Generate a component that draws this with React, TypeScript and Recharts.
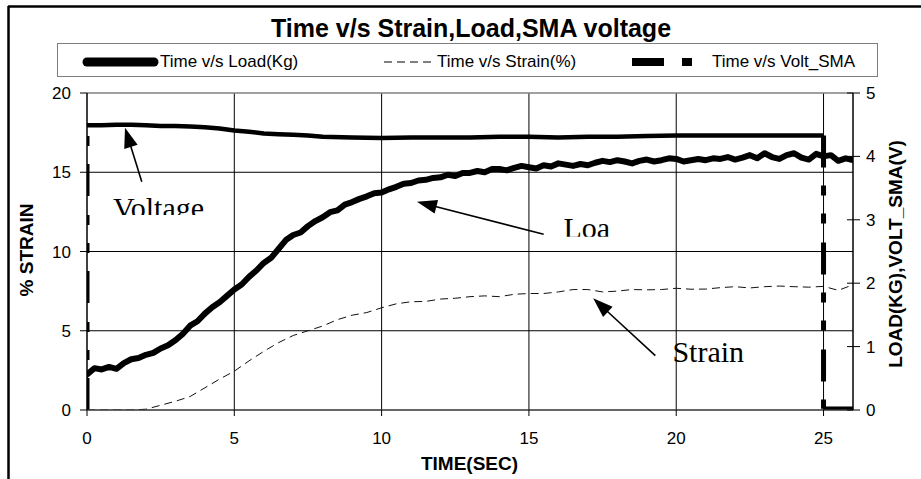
import React from 'react';
import {
  ComposedChart,
  Line,
  XAxis,
  YAxis,
  CartesianGrid,
  ReferenceLine,
  ReferenceDot,
  Customized,
} from 'recharts';

// ---------- texts ----------
const TITLE = 'Time v/s Strain,Load,SMA voltage';
const X_TITLE = 'TIME(SEC)';
const Y_LEFT_TITLE = '% STRAIN';
const Y_RIGHT_TITLE = 'LOAD(KG),VOLT_SMA(V)';
const SERIES_NAMES = ['Time v/s Load(Kg)', 'Time v/s Strain(%)', 'Time v/s Volt_SMA'];

// ---------- ticks ----------
const X_TICKS = [0, 5, 10, 15, 20, 25];
const LEFT_TICKS = [0, 5, 10, 15, 20];
const RIGHT_TICKS = [0, 1, 2, 3, 4, 5];
const GRID_Y = [5, 10, 15];
const GRID_X = [5, 10, 15, 20, 25];

// ---------- data ----------
const LOAD_T = [
  0, 0.25, 0.5, 0.75, 1, 1.25, 1.5, 1.75, 2, 2.25, 2.5, 2.75, 3, 3.25, 3.5, 3.75,
  4, 4.25, 4.5, 4.75, 5, 5.25, 5.5, 5.75, 6, 6.25, 6.5, 6.75, 7, 7.25, 7.5, 7.75,
  8, 8.25, 8.5, 8.75, 9, 9.25, 9.5, 9.75, 10, 10.25, 10.5, 10.75, 11, 11.25, 11.5, 11.75,
  12, 12.25, 12.5, 12.75, 13, 13.25, 13.5, 13.75, 14, 14.25, 14.5, 14.75, 15, 15.25, 15.5, 15.75,
  16, 16.25, 16.5, 16.75, 17, 17.25, 17.5, 17.75, 18, 18.25, 18.5, 18.75, 19, 19.25, 19.5, 19.75,
  20, 20.25, 20.5, 20.75, 21, 21.25, 21.5, 21.75, 22, 22.25, 22.5, 22.75, 23, 23.25, 23.5, 23.75,
  24, 24.25, 24.5, 24.75, 25, 25.25, 25.5, 25.75, 26,
];
const LOAD_KG = [
  0.56, 0.66, 0.64, 0.68, 0.65, 0.74, 0.8, 0.82, 0.87, 0.9, 0.97, 1.02, 1.1, 1.2, 1.33, 1.4,
  1.52, 1.62, 1.7, 1.8, 1.9, 1.98, 2.1, 2.2, 2.32, 2.4, 2.54, 2.68, 2.76, 2.8, 2.9, 2.98,
  3.04, 3.12, 3.15, 3.24, 3.28, 3.33, 3.37, 3.42, 3.43, 3.48, 3.52, 3.57, 3.58, 3.62, 3.63, 3.66,
  3.67, 3.71, 3.69, 3.74, 3.74, 3.77, 3.75, 3.8, 3.8, 3.78, 3.82, 3.85, 3.83, 3.81, 3.86, 3.84,
  3.89, 3.87, 3.85, 3.88, 3.86, 3.9, 3.93, 3.91, 3.94, 3.92, 3.89, 3.93, 3.95, 3.92, 3.94, 3.97,
  3.96, 3.92, 3.94, 3.96, 3.94, 3.97, 3.96, 3.99, 3.95, 3.98, 4.02, 3.97, 4.05, 3.99, 3.96, 4.02,
  4.05, 3.98, 3.95, 4.04, 4.0, 4.02, 3.93, 3.97, 3.94,
];
const STRAIN_T = [
  0, 0.5, 1, 1.5, 2, 2.5, 3, 3.5, 4, 4.5, 5, 5.5, 6, 6.5, 7, 7.5, 8, 8.5, 9, 9.5,
  10, 10.5, 11, 11.5, 12, 12.5, 13, 13.5, 14, 14.5, 15, 15.5, 16, 16.5, 17, 17.5,
  18, 18.5, 19, 19.5, 20, 20.5, 21, 21.5, 22, 22.5, 23, 23.5, 24, 24.5, 25, 25.5, 26,
];
const STRAIN_PCT = [
  0, 0, 0, 0, 0.05, 0.3, 0.55, 0.85, 1.4, 1.95, 2.45, 3.1, 3.7, 4.25, 4.7, 5.0, 5.3, 5.7, 5.98,
  6.15, 6.45, 6.7, 6.83, 6.85, 7.0, 7.05, 7.15, 7.2, 7.15, 7.3, 7.35, 7.35, 7.45, 7.6, 7.6, 7.45,
  7.5, 7.6, 7.58, 7.6, 7.68, 7.62, 7.63, 7.72, 7.78, 7.7, 7.78, 7.82, 7.78, 7.75, 7.8, 7.55, 7.9,
];
const VOLT_T = [
  0, 0, 0.5, 1, 1.5, 2, 2.5, 3, 3.5, 4, 4.5, 5, 5.5, 6, 6.5, 7, 7.5, 8, 9, 10, 11, 12, 13, 14,
  15, 16, 17, 18, 19, 20, 21, 22, 23, 24, 25, 25, 26,
];
const VOLT_V = [
  0, 4.49, 4.49, 4.5, 4.5, 4.49, 4.48, 4.48, 4.47, 4.46, 4.44, 4.41, 4.39, 4.36, 4.35, 4.34,
  4.33, 4.31, 4.3, 4.29, 4.3, 4.3, 4.3, 4.31, 4.31, 4.3, 4.31, 4.31, 4.32, 4.33, 4.33, 4.33,
  4.33, 4.33, 4.33, 0.02, 0.02,
];

// annotations (data units: x = seconds, y = % strain axis)
const ANNOTATIONS = [
  { text: 'Voltage', x: 0.88, y: 13.38, clip: 17, fromX: 1.86, fromY: 14.4, toX: 1.29, toY: 17.81 },
  { text: 'Loa', x: 16.17, y: 12.09, clip: 18.4, fromX: 15.5, fromY: 11.09, toX: 11.2, toY: 13.14 },
  { text: 'Strain', x: 19.87, y: 4.31, clip: 21.6, fromX: 19.29, fromY: 3.43, toX: 17.18, toY: 7.05 },
];

// ---------- derived tables ----------
type Pt = { t: number; v: number };
const loadData: Pt[] = LOAD_T.map((t, i) => ({ t, v: LOAD_KG[i] }));
const strainData: Pt[] = STRAIN_T.map((t, i) => ({ t, v: STRAIN_PCT[i] }));
const voltPts: Pt[] = VOLT_T.map((t, i) => ({ t, v: VOLT_V[i] }));
const voltSolid: Pt[][] = [];
const voltDashed: Pt[][] = [];
{
  let run: Pt[] = [voltPts[0]];
  for (let i = 1; i < voltPts.length; i++) {
    const a = voltPts[i - 1];
    const b = voltPts[i];
    if (a.t === b.t) {
      if (run.length > 1) voltSolid.push(run);
      voltDashed.push([a, b]);
      run = [b];
    } else {
      run.push(b);
    }
  }
  if (run.length > 1) voltSolid.push(run);
}

const SANS = "'Liberation Sans', Arial, Helvetica, sans-serif";
const SERIF = "'Liberation Serif', 'Times New Roman', serif";
const VOLT_DASH = '32 18 10 18 10 19';
const STRAIN_DASH = '8 5';

const RightTick = (props: any) => {
  const { x, y, payload } = props;
  return (
    <g>
      <line x1={x - 6} x2={x + 7} y1={y} y2={y} stroke="#000" strokeWidth={1} />
      <text x={x + 13} y={y} dy="0.355em" fontSize={17} fontFamily={SANS} fill="#000">
        {payload.value}
      </text>
    </g>
  );
};

const ArrowShape = (props: any) => {
  const { x1, y1, x2, y2 } = props;
  const dx = x2 - x1;
  const dy = y2 - y1;
  const len = Math.sqrt(dx * dx + dy * dy) || 1;
  const ux = dx / len;
  const uy = dy / len;
  const L = 20;
  const W = 7;
  const bx = x2 - ux * L;
  const by = y2 - uy * L;
  const nx = -uy;
  const ny = ux;
  return (
    <g>
      <line x1={x1} y1={y1} x2={bx + ux * 2} y2={by + uy * 2} stroke="#000" strokeWidth={1.6} />
      <polygon
        points={`${x2},${y2} ${bx + nx * W},${by + ny * W} ${bx - nx * W},${by - ny * W}`}
        fill="#000"
      />
    </g>
  );
};

const makeTextShape = (text: string, clip: number, idx: number) => (props: any) => {
  const { cx, cy } = props;
  const id = `ann-clip-${idx}`;
  return (
    <g>
      <defs>
        <clipPath id={id}>
          <rect x={cx - 4} y={cy - 10} width={140} height={clip + 10} />
        </clipPath>
      </defs>
      <text
        x={cx}
        y={cy + 20}
        fontSize={30}
        fontFamily={SERIF}
        fill="#000"
        clipPath={`url(#${id})`}
      >
        {text}
      </text>
    </g>
  );
};

const Decor = () => (
  <g>
    {/* outer frame */}
    <line x1={8.5} y1={6} x2={8.5} y2={479} stroke="#000" strokeWidth={2.5} />
    <line x1={8} y1={6.5} x2={921} y2={6.5} stroke="#000" strokeWidth={2.5} />
    {/* title */}
    <text x={471} y={36.5} textAnchor="middle" fontSize={25} fontWeight="bold" fontFamily={SANS} fill="#000">
      {TITLE}
    </text>
    {/* legend */}
    <rect x={57.5} y={43.5} width={820} height={33} fill="#fff" stroke="#808080" strokeWidth={1} />
    <line x1={87} x2={154} y1={62} y2={62} stroke="#000" strokeWidth={9} strokeLinecap="round" />
    <text x={160} y={67} fontSize={17} fontFamily={SANS} fill="#000">{SERIES_NAMES[0]}</text>
    <line x1={384} x2={432} y1={62} y2={62} stroke="#000" strokeWidth={1} strokeDasharray={STRAIN_DASH} />
    <text x={437} y={67} fontSize={17} fontFamily={SANS} fill="#000">{SERIES_NAMES[1]}</text>
    <line x1={632} x2={700} y1={62} y2={62} stroke="#000" strokeWidth={8} strokeDasharray={VOLT_DASH} />
    <text x={712} y={67} fontSize={17} fontFamily={SANS} fill="#000">{SERIES_NAMES[2]}</text>
    {/* axis titles */}
    <text
      x={26}
      y={250}
      dy="0.35em"
      transform="rotate(-90 26 250)"
      textAnchor="middle"
      fontSize={19}
      fontWeight="bold"
      fontFamily={SANS}
      fill="#000"
    >
      {Y_LEFT_TITLE}
    </text>
    <text
      x={895}
      y={254}
      dy="0.35em"
      transform="rotate(-90 895 254)"
      textAnchor="middle"
      fontSize={19}
      fontWeight="bold"
      fontFamily={SANS}
      fill="#000"
    >
      {Y_RIGHT_TITLE}
    </text>
    <text x={469.5} y={470} textAnchor="middle" fontSize={19} fontWeight="bold" fontFamily={SANS} fill="#000">
      {X_TITLE}
    </text>
  </g>
);

export default function App() {
  return (
    <div style={{ position: 'absolute', left: 0, top: 0, width: 921, height: 479, background: '#fff' }}>
      <ComposedChart width={921} height={479} margin={{ top: 93, right: 28, bottom: 39, left: 27 }}>
        <Customized component={Decor} />
        <CartesianGrid
          yAxisId="left"
          stroke="#000"
          strokeWidth={1}
          fill="none"
          horizontalValues={GRID_Y}
          verticalValues={GRID_X}
        />
        <XAxis
          dataKey="t"
          type="number"
          domain={[0, 26]}
          ticks={X_TICKS}
          allowDataOverflow
          height={30}
          tickSize={6}
          tickMargin={16}
          axisLine={{ stroke: '#333', strokeWidth: 1.5 }}
          tickLine={{ stroke: '#000' }}
          tick={{ fill: '#000', fontSize: 17, fontFamily: SANS }}
        />
        <YAxis
          yAxisId="left"
          orientation="left"
          width={60}
          domain={[0, 20]}
          ticks={LEFT_TICKS}
          allowDataOverflow
          tickSize={7}
          tickMargin={9}
          axisLine={{ stroke: '#000', strokeWidth: 1.5 }}
          tickLine={{ stroke: '#000' }}
          tick={{ fill: '#000', fontSize: 17, fontFamily: SANS }}
        />
        <YAxis
          yAxisId="right"
          orientation="right"
          width={40}
          domain={[0, 5]}
          ticks={RIGHT_TICKS}
          allowDataOverflow
          tickSize={0}
          tickMargin={0}
          tickLine={false}
          axisLine={{ stroke: '#000', strokeWidth: 1.5 }}
          tick={RightTick}
        />
        <ReferenceLine yAxisId="left" y={20} stroke="#808080" strokeWidth={1.5} />
        <Line
          data={strainData}
          dataKey="v"
          yAxisId="left"
          type="linear"
          stroke="#111"
          strokeWidth={1}
          strokeDasharray={STRAIN_DASH}
          dot={false}
          activeDot={false}
          isAnimationActive={false}
        />
        <Line
          data={loadData}
          dataKey="v"
          yAxisId="right"
          type="linear"
          stroke="#000"
          strokeWidth={6}
          strokeLinejoin="round"
          strokeLinecap="round"
          dot={false}
          activeDot={false}
          isAnimationActive={false}
        />
        {voltSolid.map((seg, i) => (
          <Line
            key={`vs-${i}`}
            data={seg}
            dataKey="v"
            yAxisId="right"
            type="linear"
            stroke="#000"
            strokeWidth={4.5}
            strokeLinejoin="round"
            dot={false}
            activeDot={false}
            isAnimationActive={false}
          />
        ))}
        {voltDashed.map((seg, i) => (
          <Line
            key={`vd-${i}`}
            data={seg}
            dataKey="v"
            yAxisId="right"
            type="linear"
            stroke="#000"
            strokeWidth={5}
            strokeDasharray={VOLT_DASH}
            dot={false}
            activeDot={false}
            isAnimationActive={false}
          />
        ))}
        {ANNOTATIONS.map((a, i) => (
          <ReferenceLine
            key={`arr-${i}`}
            yAxisId="left"
            segment={[
              { x: a.fromX, y: a.fromY },
              { x: a.toX, y: a.toY },
            ]}
            shape={ArrowShape}
          />
        ))}
        {ANNOTATIONS.map((a, i) => (
          <ReferenceDot
            key={`txt-${i}`}
            yAxisId="left"
            x={a.x}
            y={a.y}
            r={0}
            shape={makeTextShape(a.text, a.clip, i)}
          />
        ))}
      </ComposedChart>
    </div>
  );
}
